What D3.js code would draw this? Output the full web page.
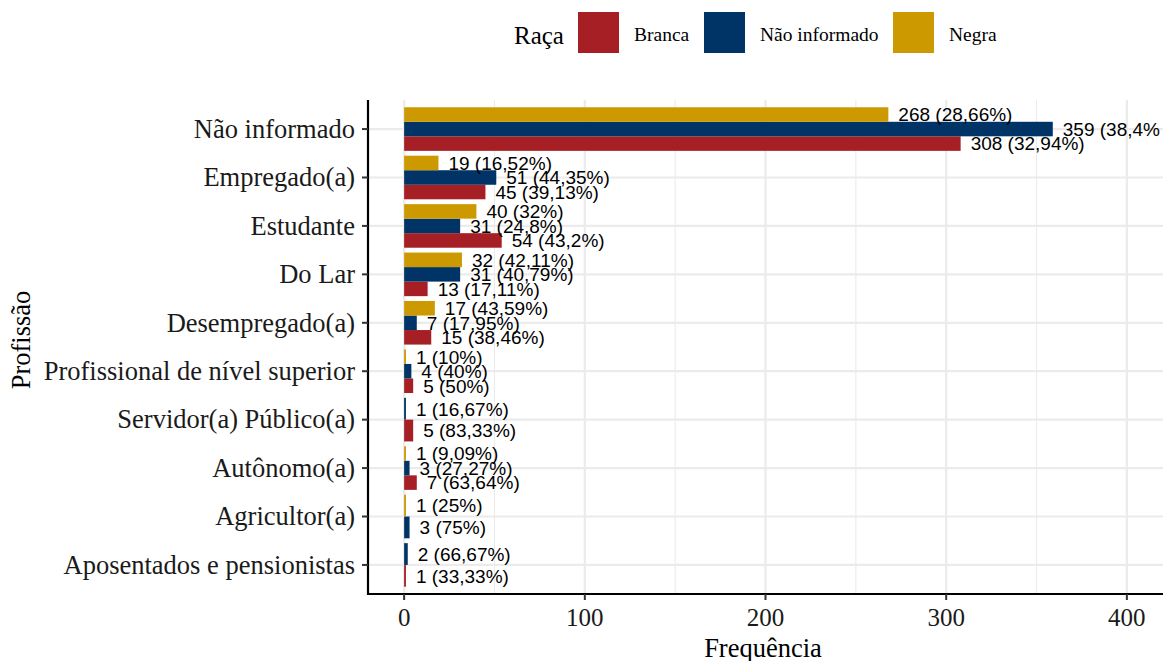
<!DOCTYPE html>
<html><head><meta charset="utf-8">
<script src="https://cdn.jsdelivr.net/npm/d3@7"></script>
<style>body{margin:0;background:#fff}svg{display:block}</style>
</head><body>
<svg id="c" width="1163" height="661"></svg>
<script>
const categories = ["Não informado","Empregado(a)","Estudante","Do Lar","Desempregado(a)","Profissional de nível superior","Servidor(a) Público(a)","Autônomo(a)","Agricultor(a)","Aposentados e pensionistas"];
const seriesNames = ["Branca","Não informado","Negra"];
const branca = [308,45,54,13,15,5,5,7,null,1];
const naoInformado = [359,51,31,31,7,4,1,3,3,2];
const negra = [268,19,40,32,17,1,null,1,1,null];
const colors = ["#A51F25","#003466","#CC9A00"];
const xTicks = [0,100,200,300,400];
const xMinor = [50,150,250,350];

const svg = d3.select("#c");
const serif = "'Liberation Serif','Times New Roman',serif";
const sans = "'Liberation Sans',Arial,sans-serif";
const L = 368, R = 1163, T = 100, B = 594;
const x = d3.scaleLinear().domain([-20,420]).range([L,R]);
const y = d3.scaleLinear().domain([-0.6, categories.length-0.4]).range([T,B]);

const seriesVals = [branca, naoInformado, negra];

// grid
const g = svg.append("g");
g.selectAll(".mn").data(xMinor).join("line").attr("x1",d=>x(d)).attr("x2",d=>x(d)).attr("y1",T).attr("y2",B).attr("stroke","#ebebeb").attr("stroke-width",1.1);
g.selectAll(".mj").data(xTicks).join("line").attr("x1",d=>x(d)).attr("x2",d=>x(d)).attr("y1",T).attr("y2",B).attr("stroke","#ebebeb").attr("stroke-width",2.2);
g.selectAll(".hy").data(categories).join("line").attr("x1",L).attr("x2",R).attr("y1",(d,i)=>y(i)).attr("y2",(d,i)=>y(i)).attr("stroke","#ebebeb").attr("stroke-width",2.2);

// build bars with dodge
const bars = [];
categories.forEach((c,i)=>{
  const present = [];
  seriesVals.forEach((arr,s)=>{ if(arr[i]!=null) present.push(s); });
  const total = d3.sum(present, s=>seriesVals[s][i]);
  const w = 0.9/present.length;
  present.forEach((s,k)=>{
    const center = i + 0.45 - w*(k+0.5);
    const v = seriesVals[s][i];
    const pct = Math.round(v/total*10000)/100;
    bars.push({i, s, v, y0:center-w/2, y1:center+w/2, center, label: v+" ("+String(pct).replace(".",",")+"%)"});
  });
});

svg.append("clipPath").attr("id","clip").append("rect").attr("x",L).attr("y",T).attr("width",R-L-3).attr("height",B-T);
const pg = svg.append("g").attr("clip-path","url(#clip)");
pg.selectAll("rect.bar").data(bars).join("rect").attr("class","bar")
  .attr("x",x(0)).attr("width",d=>x(d.v)-x(0))
  .attr("y",d=>y(d.y0)).attr("height",d=>y(d.y1)-y(d.y0))
  .attr("fill",d=>colors[d.s]);
pg.selectAll("text.lab").data(bars).join("text").attr("class","lab")
  .attr("x",d=>x(d.v)+10).attr("y",d=>y(d.center)).attr("dy","0.36em")
  .attr("font-family",sans).attr("font-size",19).attr("fill","#000")
  .text(d=>d.label);

// axes
svg.append("line").attr("x1",L).attr("x2",L).attr("y1",T).attr("y2",B+1).attr("stroke","#000").attr("stroke-width",2.2);
svg.append("line").attr("x1",L-1).attr("x2",R).attr("y1",B).attr("y2",B).attr("stroke","#000").attr("stroke-width",2.2);
svg.selectAll(".yt").data(categories).join("line").attr("x1",L-6).attr("x2",L).attr("y1",(d,i)=>y(i)).attr("y2",(d,i)=>y(i)).attr("stroke","#333").attr("stroke-width",2);
svg.selectAll(".yl").data(categories).join("text").attr("x",L-13).attr("y",(d,i)=>y(i)).attr("dy","0.33em")
  .attr("text-anchor","end").attr("font-family",serif).attr("font-size",26.5).attr("fill","#1a1a1a").text(d=>d);
svg.selectAll(".xt").data(xTicks).join("line").attr("x1",d=>x(d)).attr("x2",d=>x(d)).attr("y1",B).attr("y2",B+6).attr("stroke","#333").attr("stroke-width",2);
svg.selectAll(".xl").data(xTicks).join("text").attr("x",d=>x(d)).attr("y",626)
  .attr("text-anchor","middle").attr("font-family",serif).attr("font-size",25).attr("fill","#1a1a1a").text(d=>d);

svg.append("text").attr("x",763).attr("y",657).attr("text-anchor","middle").attr("font-family",serif).attr("font-size",26.5).text("Frequência");
svg.append("text").attr("transform","translate(30,340) rotate(-90)").attr("text-anchor","middle").attr("font-family",serif).attr("font-size",26.5).text("Profissão");

// legend
const lg = svg.append("g");
lg.append("text").attr("x",514).attr("y",44).attr("font-family",serif).attr("font-size",25).text("Raça");
const keyX = [578,704,893];
seriesNames.forEach((n,s)=>{
  lg.append("rect").attr("x",keyX[s]).attr("y",12).attr("width",41).attr("height",41).attr("fill",colors[s]);
  lg.append("text").attr("x",keyX[s]+56).attr("y",41).attr("font-family",serif).attr("font-size",19.5).text(n);
});
</script>
</body></html>
